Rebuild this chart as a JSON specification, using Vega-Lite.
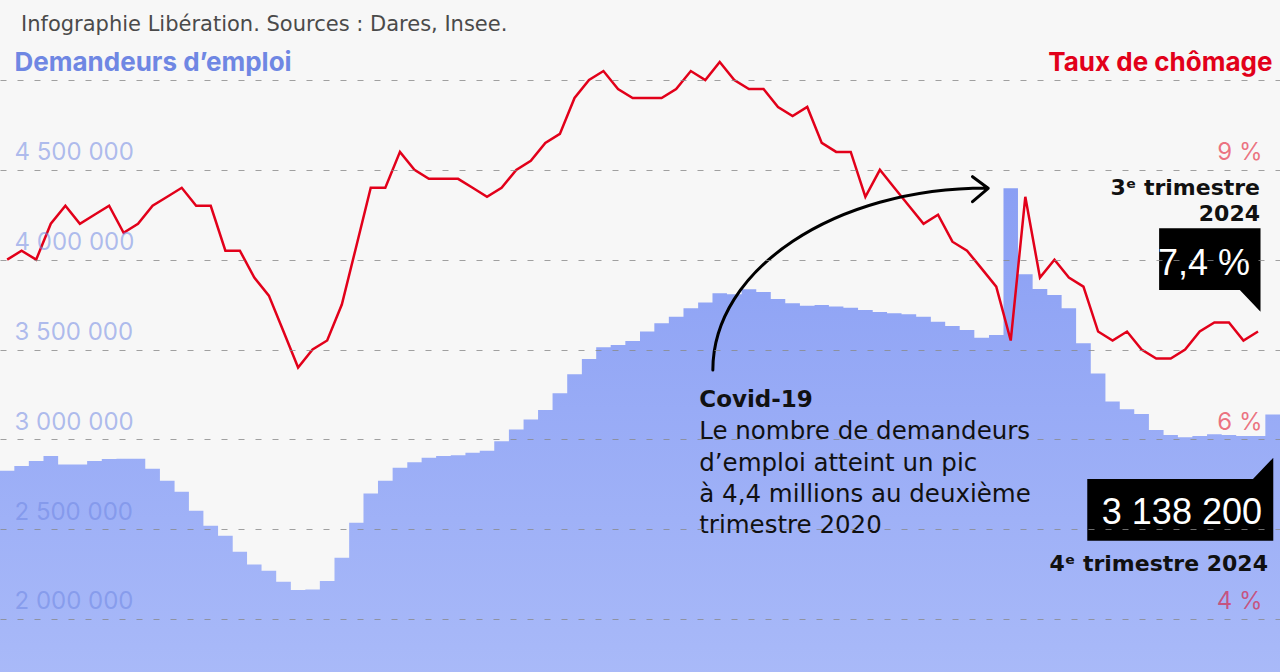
{
  "$schema": "https://vega.github.io/schema/vega-lite/v6.json",
  "width": 1280,
  "height": 632,
  "autosize": {"type": "none"},
  "padding": {"top": 40, "left": 0, "right": 0, "bottom": 0},
  "background": "#f7f7f7",
  "title": {
    "text": "Infographie Libération. Sources : Dares, Insee.",
    "anchor": "start",
    "frame": "group",
    "font": "DejaVu Sans",
    "fontSize": 21,
    "fontWeight": "normal",
    "color": "#4a4a4a",
    "baseline": "alphabetic",
    "offset": -12,
    "dx": 21
  },
  "config": {
    "view": {"stroke": null},
    "font": "DejaVu Sans",
    "locale": {
      "number": {"decimal": ",", "thousands": " ", "grouping": [3], "currency": ["", " €"]}
    }
  },
  "datasets": {
    "trimestres": [
      {"date": "2003-01-01", "demandeurs": 2825000, "taux": 8.0},
      {"date": "2003-04-01", "demandeurs": 2851000, "taux": 8.1},
      {"date": "2003-07-01", "demandeurs": 2879000, "taux": 8.0},
      {"date": "2003-10-01", "demandeurs": 2907000, "taux": 8.4},
      {"date": "2004-01-01", "demandeurs": 2860000, "taux": 8.6},
      {"date": "2004-04-01", "demandeurs": 2860000, "taux": 8.4},
      {"date": "2004-07-01", "demandeurs": 2879000, "taux": 8.5},
      {"date": "2004-10-01", "demandeurs": 2890000, "taux": 8.6},
      {"date": "2005-01-01", "demandeurs": 2892000, "taux": 8.3},
      {"date": "2005-04-01", "demandeurs": 2892000, "taux": 8.4},
      {"date": "2005-07-01", "demandeurs": 2836000, "taux": 8.6},
      {"date": "2005-10-01", "demandeurs": 2770000, "taux": 8.7},
      {"date": "2006-01-01", "demandeurs": 2708000, "taux": 8.8},
      {"date": "2006-04-01", "demandeurs": 2602000, "taux": 8.6},
      {"date": "2006-07-01", "demandeurs": 2519000, "taux": 8.6},
      {"date": "2006-10-01", "demandeurs": 2463000, "taux": 8.1},
      {"date": "2007-01-01", "demandeurs": 2374000, "taux": 8.1},
      {"date": "2007-04-01", "demandeurs": 2304000, "taux": 7.8},
      {"date": "2007-07-01", "demandeurs": 2268000, "taux": 7.6},
      {"date": "2007-10-01", "demandeurs": 2207000, "taux": 7.2},
      {"date": "2008-01-01", "demandeurs": 2161000, "taux": 6.8},
      {"date": "2008-04-01", "demandeurs": 2164000, "taux": 7.0},
      {"date": "2008-07-01", "demandeurs": 2212000, "taux": 7.1},
      {"date": "2008-10-01", "demandeurs": 2341000, "taux": 7.5},
      {"date": "2009-01-01", "demandeurs": 2536000, "taux": 8.15},
      {"date": "2009-04-01", "demandeurs": 2699000, "taux": 8.8},
      {"date": "2009-07-01", "demandeurs": 2770000, "taux": 8.8},
      {"date": "2009-10-01", "demandeurs": 2842000, "taux": 9.2},
      {"date": "2010-01-01", "demandeurs": 2872000, "taux": 9.0},
      {"date": "2010-04-01", "demandeurs": 2898000, "taux": 8.9},
      {"date": "2010-07-01", "demandeurs": 2907000, "taux": 8.9},
      {"date": "2010-10-01", "demandeurs": 2911000, "taux": 8.9},
      {"date": "2011-01-01", "demandeurs": 2925000, "taux": 8.8},
      {"date": "2011-04-01", "demandeurs": 2937000, "taux": 8.7},
      {"date": "2011-07-01", "demandeurs": 2990000, "taux": 8.8},
      {"date": "2011-10-01", "demandeurs": 3055000, "taux": 9.0},
      {"date": "2012-01-01", "demandeurs": 3111000, "taux": 9.1},
      {"date": "2012-04-01", "demandeurs": 3163000, "taux": 9.3},
      {"date": "2012-07-01", "demandeurs": 3256000, "taux": 9.4},
      {"date": "2012-10-01", "demandeurs": 3362000, "taux": 9.8},
      {"date": "2013-01-01", "demandeurs": 3447000, "taux": 10.0},
      {"date": "2013-04-01", "demandeurs": 3512000, "taux": 10.1},
      {"date": "2013-07-01", "demandeurs": 3525000, "taux": 9.9},
      {"date": "2013-10-01", "demandeurs": 3548000, "taux": 9.8},
      {"date": "2014-01-01", "demandeurs": 3600000, "taux": 9.8},
      {"date": "2014-04-01", "demandeurs": 3646000, "taux": 9.8},
      {"date": "2014-07-01", "demandeurs": 3683000, "taux": 9.9},
      {"date": "2014-10-01", "demandeurs": 3730000, "taux": 10.1},
      {"date": "2015-01-01", "demandeurs": 3761000, "taux": 10.0},
      {"date": "2015-04-01", "demandeurs": 3813000, "taux": 10.2},
      {"date": "2015-07-01", "demandeurs": 3808000, "taux": 10.0},
      {"date": "2015-10-01", "demandeurs": 3835000, "taux": 9.9},
      {"date": "2016-01-01", "demandeurs": 3820000, "taux": 9.9},
      {"date": "2016-04-01", "demandeurs": 3781000, "taux": 9.7},
      {"date": "2016-07-01", "demandeurs": 3757000, "taux": 9.6},
      {"date": "2016-10-01", "demandeurs": 3744000, "taux": 9.7},
      {"date": "2017-01-01", "demandeurs": 3748000, "taux": 9.3},
      {"date": "2017-04-01", "demandeurs": 3739000, "taux": 9.2},
      {"date": "2017-07-01", "demandeurs": 3733000, "taux": 9.2},
      {"date": "2017-10-01", "demandeurs": 3720000, "taux": 8.7},
      {"date": "2018-01-01", "demandeurs": 3709000, "taux": 9.0},
      {"date": "2018-04-01", "demandeurs": 3702000, "taux": 8.8},
      {"date": "2018-07-01", "demandeurs": 3696000, "taux": 8.6},
      {"date": "2018-10-01", "demandeurs": 3683000, "taux": 8.4},
      {"date": "2019-01-01", "demandeurs": 3655000, "taux": 8.5},
      {"date": "2019-04-01", "demandeurs": 3631000, "taux": 8.2},
      {"date": "2019-07-01", "demandeurs": 3609000, "taux": 8.1},
      {"date": "2019-10-01", "demandeurs": 3566000, "taux": 7.9},
      {"date": "2020-01-01", "demandeurs": 3581000, "taux": 7.7},
      {"date": "2020-04-01", "demandeurs": 4398000, "taux": 7.1},
      {"date": "2020-07-01", "demandeurs": 3919000, "taux": 8.7},
      {"date": "2020-10-01", "demandeurs": 3837000, "taux": 7.8},
      {"date": "2021-01-01", "demandeurs": 3804000, "taux": 8.0},
      {"date": "2021-04-01", "demandeurs": 3730000, "taux": 7.8},
      {"date": "2021-07-01", "demandeurs": 3535000, "taux": 7.7},
      {"date": "2021-10-01", "demandeurs": 3367000, "taux": 7.2},
      {"date": "2022-01-01", "demandeurs": 3210000, "taux": 7.1},
      {"date": "2022-04-01", "demandeurs": 3167000, "taux": 7.2},
      {"date": "2022-07-01", "demandeurs": 3141000, "taux": 7.0},
      {"date": "2022-10-01", "demandeurs": 3052000, "taux": 6.9},
      {"date": "2023-01-01", "demandeurs": 3024000, "taux": 6.9},
      {"date": "2023-04-01", "demandeurs": 3011000, "taux": 7.0},
      {"date": "2023-07-01", "demandeurs": 3018000, "taux": 7.2},
      {"date": "2023-10-01", "demandeurs": 3028000, "taux": 7.3},
      {"date": "2024-01-01", "demandeurs": 3024000, "taux": 7.3},
      {"date": "2024-04-01", "demandeurs": 3018000, "taux": 7.1},
      {"date": "2024-07-01", "demandeurs": 3018000, "taux": 7.2},
      {"date": "2024-10-01", "demandeurs": 3138200, "taux": null},
      {"date": "2025-01-01", "demandeurs": 3138200, "taux": null}
    ]
  },
  "data": {"name": "trimestres"},
  "resolve": {"scale": {"y": "independent"}},
  "layer": [
    {
      "mark": {
        "type": "area",
        "interpolate": "step-after",
        "clip": true,
        "color": {
          "gradient": "linear",
          "x1": 0, "y1": 0, "x2": 0, "y2": 1,
          "stops": [
            {"offset": 0, "color": "#8a9ff4"},
            {"offset": 1, "color": "#bccafb"}
          ]
        }
      },
      "encoding": {
        "x": {
          "field": "date", "type": "temporal",
          "scale": {"type": "utc", "domain": [{"year": 2003, "month": 1, "date": 1, "utc": true}, {"year": 2025, "month": 1, "date": 1, "utc": true}]},
          "axis": null
        },
        "y": {
          "field": "demandeurs", "type": "quantitative",
          "scale": {"domain": [1705000, 5222700], "zero": false, "nice": false},
          "axis": {
            "orient": "left",
            "zindex": 1,
            "values": [2000000, 2500000, 3000000, 3500000, 4000000, 4500000, 5000000],
            "format": ",d",
            "labelExpr": "datum.value >= 5000000 ? '' : datum.label",
            "grid": true,
            "gridDash": [6, 11],
            "gridColor": "#8a8a8a",
            "gridOpacity": 0.8,
            "gridWidth": 1,
            "domain": false,
            "ticks": false,
            "tickSize": 0,
            "labelAlign": "left",
            "labelBaseline": "alphabetic",
            "labelPadding": -14,
            "labelOffset": -10,
            "labelFont": "Inter",
            "labelFontSize": 24,
            "labelColor": "#6f87e3",
            "labelOpacity": 0.55,
            "title": "Demandeurs d’emploi",
            "titleAngle": 0,
            "titleAlign": "left",
            "titleBaseline": "alphabetic",
            "titleX": 14,
            "titleY": 30,
            "titleFont": "Inter",
            "titleFontSize": 26,
            "titleFontWeight": "bold",
            "titleColor": "#6f87e3"
          }
        }
      }
    },
    {
      "mark": {"type": "line", "color": "#e2001a", "strokeWidth": 2.5, "clip": true},
      "encoding": {
        "x": {
          "field": "date", "type": "temporal", "timeUnit": "utcyearquarter", "bandPosition": 0.5,
          "scale": {"type": "utc", "domain": [{"year": 2003, "month": 1, "date": 1, "utc": true}, {"year": 2025, "month": 1, "date": 1, "utc": true}]},
          "axis": null
        },
        "y": {
          "field": "taux", "type": "quantitative",
          "scale": {"domain": [3.41, 10.4454], "zero": false, "nice": false},
          "axis": {
            "orient": "right",
            "zindex": 1,
            "values": [4, 6, 9],
            "format": "d",
            "labelExpr": "datum.label + ' %'",
            "grid": false,
            "domain": false,
            "ticks": false,
            "tickSize": 0,
            "labelAlign": "right",
            "labelBaseline": "alphabetic",
            "labelPadding": -18,
            "labelOffset": -10,
            "labelFont": "Inter",
            "labelFontSize": 24,
            "labelColor": "#e2001a",
            "labelOpacity": 0.55,
            "title": "Taux de chômage",
            "titleAngle": 0,
            "titleAlign": "right",
            "titleBaseline": "alphabetic",
            "titleX": -8,
            "titleY": 30,
            "titleFont": "Inter",
            "titleFontSize": 26,
            "titleFontWeight": "bold",
            "titleColor": "#e2001a"
          }
        }
      }
    },
    {
      "data": {"values": [{}]},
      "mark": {
        "type": "point",
        "shape": "M-2.72,0C-2.72,-1.005,-1.502,-1.82,0.02,-1.82M-0.123,-1.933L0.033,-1.817L-0.123,-1.683",
        "size": 40000,
        "filled": false,
        "stroke": "#000000",
        "strokeWidth": 3,
        "strokeCap": "round",
        "strokeJoin": "round",
        "opacity": 1
      },
      "encoding": {
        "x": {
          "datum": {"year": 2019, "month": 12, "date": 6, "utc": true}, "type": "temporal",
          "scale": {"type": "utc", "domain": [{"year": 2003, "month": 1, "date": 1, "utc": true}, {"year": 2025, "month": 1, "date": 1, "utc": true}]}
        },
        "y": {"datum": 3385900, "type": "quantitative", "scale": {"domain": [1705000, 5222700], "zero": false, "nice": false}, "axis": null}
      }
    },
    {
      "data": {"values": [{}]},
      "mark": {"type": "text", "text": "Covid-19", "align": "left", "baseline": "alphabetic", "font": "DejaVu Sans", "fontSize": 23, "fontWeight": "bold", "color": "#111111"},
      "encoding": {
        "x": {
          "datum": {"year": 2015, "month": 1, "date": 8, "utc": true}, "type": "temporal",
          "scale": {"type": "utc", "domain": [{"year": 2003, "month": 1, "date": 1, "utc": true}, {"year": 2025, "month": 1, "date": 1, "utc": true}]}
        },
        "y": {"datum": 3178300, "type": "quantitative", "scale": {"domain": [1705000, 5222700], "zero": false, "nice": false}, "axis": null}
      }
    },
    {
      "data": {"values": [{}]},
      "mark": {
        "type": "text",
        "text": ["Le nombre de demandeurs", "d’emploi atteint un pic", "à 4,4 millions au deuxième", "trimestre 2020"],
        "align": "left", "baseline": "alphabetic", "lineHeight": 31.3,
        "font": "DejaVu Sans", "fontSize": 24.5, "fontWeight": "normal", "color": "#111111"
      },
      "encoding": {
        "x": {
          "datum": {"year": 2015, "month": 1, "date": 8, "utc": true}, "type": "temporal",
          "scale": {"type": "utc", "domain": [{"year": 2003, "month": 1, "date": 1, "utc": true}, {"year": 2025, "month": 1, "date": 1, "utc": true}]}
        },
        "y": {"datum": 3000200, "type": "quantitative", "scale": {"domain": [1705000, 5222700], "zero": false, "nice": false}, "axis": null}
      }
    },
    {
      "transform": [{"filter": "utcyear(datum.date) == 2024 && utcquarter(datum.date) == 3"}],
      "encoding": {
        "x": {
          "field": "date", "type": "temporal", "timeUnit": "utcyearquarter", "bandPosition": 0.5,
          "scale": {"type": "utc", "domain": [{"year": 2003, "month": 1, "date": 1, "utc": true}, {"year": 2025, "month": 1, "date": 1, "utc": true}]}
        },
        "y": {"field": "taux", "type": "quantitative", "scale": {"domain": [3.41, 10.4454], "zero": false, "nice": false}, "axis": null}
      },
      "layer": [
        {
          "mark": {
            "type": "point",
            "shape": "M-0.989,-1.032H0.025V-0.198L-0.182,-0.415H-0.989Z",
            "size": 40000, "filled": true, "fill": "#000000", "strokeWidth": 0, "opacity": 1
          }
        },
        {
          "mark": {
            "type": "text", "text": "7,4 %", "align": "right", "baseline": "alphabetic",
            "dx": -8, "dy": -57,
            "font": "Liberation Sans",
            "fontSize": 36, "color": "#ffffff"
          }
        },
        {
          "mark": {
            "type": "text", "text": ["3ᵉ trimestre", "2024"], "align": "right", "baseline": "alphabetic",
            "lineHeight": 25.7, "dx": 2, "dy": -136.5,
            "font": "DejaVu Sans", "fontSize": 22, "fontWeight": "bold", "color": "#111111"
          }
        }
      ]
    },
    {
      "transform": [{"filter": "utcyear(datum.date) == 2024 && utcquarter(datum.date) == 4"}],
      "encoding": {
        "x": {
          "field": "date", "type": "temporal", "timeUnit": "utcyearquarter", "bandPosition": 0.5,
          "scale": {"type": "utc", "domain": [{"year": 2003, "month": 1, "date": 1, "utc": true}, {"year": 2025, "month": 1, "date": 1, "utc": true}]}
        },
        "y": {"field": "demandeurs", "type": "quantitative", "scale": {"domain": [1705000, 5222700], "zero": false, "nice": false}, "axis": null}
      },
      "layer": [
        {
          "mark": {
            "type": "point",
            "shape": "M-1.854,0.645H-0.197L0.006,0.432V1.262H-1.854Z",
            "size": 40000, "filled": true, "fill": "#000000", "strokeWidth": 0, "opacity": 1
          }
        },
        {
          "mark": {
            "type": "text", "align": "right", "baseline": "alphabetic",
            "dx": -10.7, "dy": 109,
            "font": "Liberation Sans",
            "fontSize": 36, "color": "#ffffff"
          },
          "encoding": {"text": {"field": "demandeurs", "type": "quantitative", "format": ",d"}}
        },
        {
          "mark": {
            "type": "text", "text": "4ᵉ trimestre 2024", "align": "right", "baseline": "alphabetic",
            "dx": -4.7, "dy": 156.2,
            "font": "DejaVu Sans", "fontSize": 22, "fontWeight": "bold", "color": "#111111"
          }
        }
      ]
    }
  ]
}
